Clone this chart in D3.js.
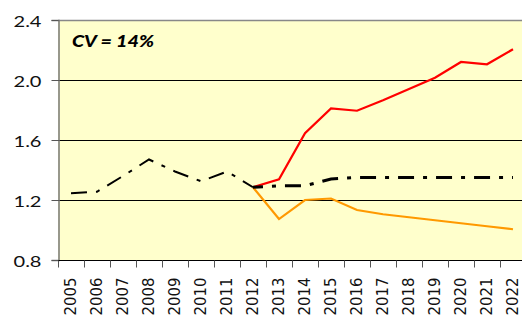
<!DOCTYPE html>
<html>
<head>
<meta charset="utf-8">
<script src="https://cdn.jsdelivr.net/npm/d3@7"></script>
<style>
  html, body { margin: 0; padding: 0; background: #fff; }
  svg { display: block; }
</style>
</head>
<body>
<svg id="chart" width="522" height="320"></svg>
<script>
// Years on the category axis
const years = ["2005","2006","2007","2008","2009","2010","2011","2012","2013",
               "2014","2015","2016","2017","2018","2019","2020","2021","2022"];
// Historical series (2005-2012)
const history = [1.245, 1.255, 1.36, 1.47, 1.39, 1.325, 1.39, 1.285];
// Projections from 2012 onward
const projYears = years.slice(7);
const central = [1.285, 1.295, 1.295, 1.34, 1.35, 1.35, 1.35, 1.35, 1.35, 1.35, 1.35];
const high    = [1.285, 1.338, 1.645, 1.81, 1.795, 1.865, 1.94, 2.015, 2.12, 2.105, 2.205];
const low     = [1.285, 1.073, 1.20, 1.21, 1.133, 1.105, 1.085, 1.065, 1.045, 1.025, 1.005];
const yTicks = [0.8, 1.2, 1.6, 2.0, 2.4];
const note = "CV = 14%";

const svg = d3.select("#chart");
const margin = { left: 58, top: 20, right: -4, bottom: 60 };
const W = 522, H = 320;
const x0 = margin.left, x1 = W - margin.right;
const y0 = H - margin.bottom, y1 = margin.top;

const x = d3.scaleBand().domain(years).range([x0, x1]);
const y = d3.scaleLinear().domain([0.8, 2.4]).range([y0, y1]);
const cx = d => x(d) + x.bandwidth() / 2;

// plot background
svg.append("rect").attr("x", x0).attr("y", y1)
  .attr("width", x1 - x0).attr("height", y0 - y1)
  .attr("fill", "#FFFFCC");

// horizontal gridlines
svg.append("g").selectAll("line").data(yTicks.slice(1, -1)).join("line")
  .attr("x1", x0).attr("x2", x1)
  .attr("y1", d => Math.round(y(d)) + 0.5).attr("y2", d => Math.round(y(d)) + 0.5)
  .attr("stroke", "#000").attr("stroke-width", 1);

// top border
svg.append("line").attr("x1", x0).attr("x2", x1)
  .attr("y1", y1 + 0.5).attr("y2", y1 + 0.5)
  .attr("stroke", "#888").attr("stroke-width", 1.5);

const font = "Lato, 'Open Sans', sans-serif";

// y axis
const yAxis = d3.axisLeft(y).tickValues(yTicks).tickFormat(d3.format(".1f"))
  .tickSize(7).tickPadding(10);
const gy = svg.append("g").attr("transform", `translate(${x0 + 0.5},0)`).call(yAxis);
gy.select(".domain").attr("stroke", "#777").attr("stroke-width", 1.5);
gy.selectAll(".tick line").attr("stroke", "#555");
gy.selectAll("text").attr("font-family", font).attr("font-size", 16).attr("fill", "#111")
  .attr("dy", null).attr("y", 6.5)
  .attr("textLength", 28).attr("lengthAdjust", "spacingAndGlyphs");

// x axis with tick marks at category boundaries
const gx = svg.append("g").attr("transform", `translate(0,${Math.round(y0) + 0.5})`);
gx.append("line").attr("x1", x0).attr("x2", x1).attr("stroke", "#000").attr("stroke-width", 1);
gx.selectAll("line.tk").data(years).join("line").attr("class", "tk")
  .attr("x1", d => Math.round(x(d)) + 0.5).attr("x2", d => Math.round(x(d)) + 0.5)
  .attr("y1", 0).attr("y2", 7).attr("stroke", "#555");
gx.selectAll("text").data(years).join("text")
  .attr("transform", d => `translate(${cx(d) + 5},17) rotate(-90)`)
  .attr("text-anchor", "end")
  .attr("font-family", "'DejaVu Sans', sans-serif").attr("font-size", 15).attr("fill", "#111")
  .attr("textLength", 38).attr("lengthAdjust", "spacingAndGlyphs")
  .text(d => d);

const line = d3.line().x(d => cx(d[0])).y(d => y(d[1]));

// low projection
svg.append("path").datum(d3.zip(projYears, low))
  .attr("d", line).attr("fill", "none")
  .attr("stroke", "#FF9900").attr("stroke-width", 2.2);
// high projection
svg.append("path").datum(d3.zip(projYears, high))
  .attr("d", line).attr("fill", "none")
  .attr("stroke", "#FF0000").attr("stroke-width", 2.2);
// historical values
svg.append("path").datum(d3.zip(years.slice(0, 8), history))
  .attr("d", line).attr("fill", "none")
  .attr("stroke", "#000").attr("stroke-width", 2)
  .attr("stroke-dasharray", "16,9,4,9");
// central projection
svg.append("path").datum(d3.zip(projYears, central))
  .attr("d", line).attr("fill", "none")
  .attr("stroke", "#000").attr("stroke-width", 3)
  .attr("stroke-dasharray", "16,9,4,9").attr("stroke-dashoffset", 6);

// annotation
svg.append("text").attr("x", 72).attr("y", 46.5)
  .attr("font-family", font).attr("font-size", 16.5)
  .attr("font-weight", "900").attr("font-style", "italic")
  .attr("textLength", 82).attr("lengthAdjust", "spacingAndGlyphs")
  .attr("fill", "#000").text(note);
</script>
</body>
</html>
